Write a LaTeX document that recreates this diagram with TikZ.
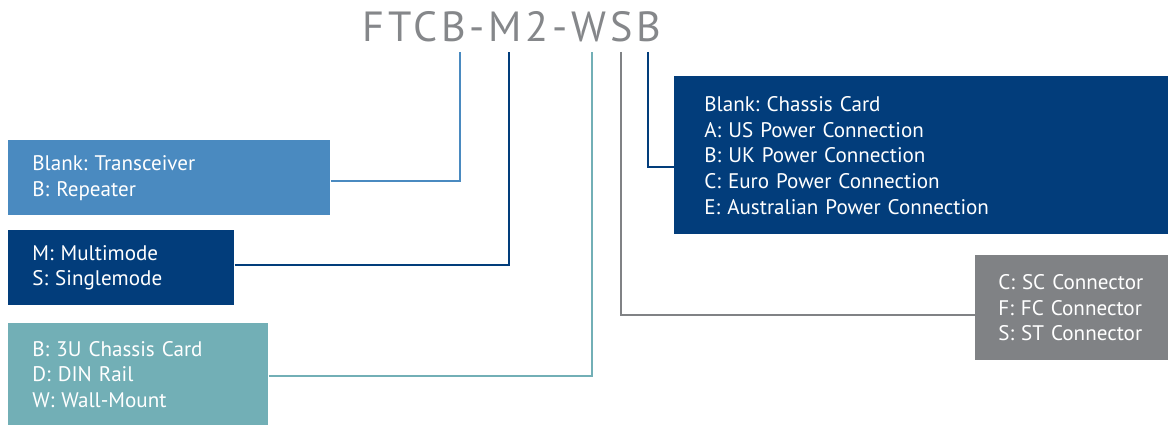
\documentclass[tikz,border=0pt]{standalone}
\usepackage{fontspec}
\setmainfont{PT Sans}
\usepackage{xcolor}
\usepackage{tikz}
\usetikzlibrary{positioning}
\definecolor{sky}{HTML}{4A8AC0}
\definecolor{navy}{HTML}{023D7B}
\definecolor{teal}{HTML}{72AFB6}
\definecolor{slate}{HTML}{808285}
\definecolor{code}{HTML}{85878A}
\frenchspacing

\begin{document}
\begin{tikzpicture}[
  x=0.02cm, y=-0.02cm,
  panel/.style = {anchor=north west, align=left, text=white, inner xsep=0.48cm,
                  inner ysep=0pt, font=\fontsize{12}{14.6}\selectfont},
  lead/.style  = {line width=1.3pt},
]
\useasboundingbox (0,0) rectangle (1168,425);

\node[anchor=base, text=code, font=\fontsize{24}{28}\selectfont\addfontfeatures{LetterSpace=9}]
  (title) at (512,42) {FTCB-M2-WSB};

% tops of the leads, under the code
\coordinate (t1) at (460,52);
\coordinate (t2) at (509,52);
\coordinate (t3) at (592,52);
\coordinate (t4) at (621,52);
\coordinate (t5) at (648,52);

\node[panel, fill=sky, text width=5.48cm, minimum height=1.5cm] (b1) at (8,140)
  {Blank: Transceiver\\ B: Repeater};
\node[panel, fill=navy, text width=3.56cm, minimum height=1.5cm] (b2) at (8,230)
  {M: Multimode\\ S: Singlemode};
\node[panel, fill=teal, text width=4.24cm, minimum height=2.04cm] (b3) at (8,323)
  {B: 3U Chassis Card\\ D: DIN Rail\\ W: Wall-Mount};
\node[panel, fill=navy, inner xsep=0.6cm, text width=8.68cm, minimum height=3.16cm] (b4) at (674,76)
  {Blank: Chassis Card\\ A: US Power Connection\\ B: UK Power Connection\\
   C: Euro Power Connection\\ E: Australian Power Connection};
\node[panel, fill=slate, inner xsep=0.46cm, text width=2.94cm, minimum height=2.1cm] (b5) at (975,255)
  {C: SC Connector\\ F: FC Connector\\ S: ST Connector};

\draw[lead, draw=sky]   ([yshift=-0.07cm]b1.east) -| (t1);
\draw[lead, draw=navy]  ([yshift=0.05cm]b2.east) -| (t2);
\draw[lead, draw=teal]  ([yshift=-0.04cm]b3.east) -| (t3);
\draw[lead, draw=slate] (t4) |- ([yshift=-0.14cm]b5.west);
\draw[lead, draw=navy]  (t5) |- ([yshift=-0.24cm]b4.west);

\end{tikzpicture}
\end{document}
